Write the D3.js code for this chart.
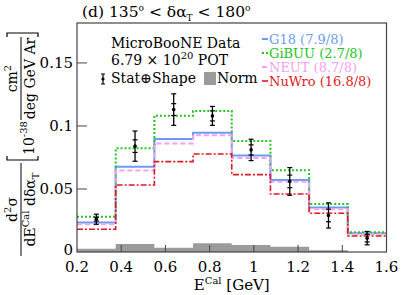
<!DOCTYPE html>
<html lang="en">
<head>
    <meta charset="UTF-8">
    <title>E Cal, 135 < dalphaT < 180</title>
    <style>
        body { margin: 0; background: #fff; }
        svg, svg text { font-family: "DejaVu Serif", "Liberation Serif", "Times New Roman", serif; }
        .leg { font-size: 14px; }
        .leg-r { font-size: 13px; }
    </style>
</head>
<body>
    <svg id="chart" width="407" height="295"></svg>

    <script src="https://d3js.org/d3.v7.min.js"></script>
    <script>
        // bin edges in E^Cal (GeV)
        const binEdges = [0.2, 0.375, 0.55, 0.725, 0.9, 1.075, 1.25, 1.425, 1.6];

        // MicroBooNE data (10^-38 cm2 / deg GeV Ar)
        const dataValues = [0.026, 0.084, 0.113, 0.108, 0.081, 0.056, 0.029, 0.011];
        const dataErrTotal = [0.004, 0.012, 0.0125, 0.0075, 0.0085, 0.011, 0.010, 0.0053];
        const dataErrStat = [0.0015, 0.005, 0.0047, 0.004, 0.004, 0.005, 0.005, 0.003];

        // normalisation uncertainty band
        const normValues = [0.0026, 0.0063, 0.0034, 0.0069, 0.0056, 0.0042, 0.0014, 0.0];

        // generator predictions
        const g18Values = [0.0235, 0.0677, 0.0897, 0.0947, 0.0765, 0.0571, 0.0354, 0.0148];
        const gibuuValues = [0.028, 0.0823, 0.1082, 0.1119, 0.0881, 0.0648, 0.0381, 0.0156];
        const neutValues = [0.022, 0.0646, 0.086, 0.0926, 0.0746, 0.0558, 0.0339, 0.014];
        const nuwroValues = [0.018, 0.0532, 0.0717, 0.0778, 0.0614, 0.046, 0.0307, 0.0127];

        const xTicks = [0.2, 0.4, 0.6, 0.8, 1.0, 1.2, 1.4, 1.6];
        const yTicks = [0, 0.05, 0.1, 0.15];

        const models = [
            { name: "G18", chi2: "7.9/8", values: g18Values, color: "#6a9cf0", dash: null, width: 2 },
            { name: "GiBUU", chi2: "2.7/8", values: gibuuValues, color: "#22c422", dash: "2,2", width: 2 },
            { name: "NEUT", chi2: "8.7/8", values: neutValues, color: "#f7a0f2", dash: "5,3", width: 2 },
            { name: "NuWro", chi2: "16.8/8", values: nuwroValues, color: "#dd1a22", dash: "6,2,2,2", width: 1.6 }
        ];

        const margin = { top: 23, right: 20.5, bottom: 43, left: 77 };
        const width = 407 - margin.left - margin.right;
        const height = 295 - margin.top - margin.bottom;

        const svg = d3.select("#chart");
        const g = svg.append("g")
            .attr("transform", "translate(" + margin.left + "," + margin.top + ")");

        const x = d3.scaleLinear().domain([0.2, 1.6]).range([0, width]);
        const y = d3.scaleLinear().domain([0, 0.1817]).range([height, 0]);

        const centers = binEdges.slice(0, -1).map((e, i) => (e + binEdges[i + 1]) / 2);

        // norm band
        const normArea = d3.area()
            .curve(d3.curveStepAfter)
            .x(d => x(d.x))
            .y0(y(0))
            .y1(d => y(d.v));
        const normPts = binEdges.map((e, i) => ({ x: e, v: normValues[Math.min(i, normValues.length - 1)] }));
        g.append("path")
            .attr("d", normArea(normPts))
            .attr("fill", "#9b9b9b");

        // model histograms
        const stepLine = d3.line()
            .curve(d3.curveStepAfter)
            .x(d => x(d.x))
            .y(d => y(d.v));
        models.forEach(m => {
            const pts = binEdges.map((e, i) => ({ x: e, v: m.values[Math.min(i, m.values.length - 1)] }));
            g.append("path")
                .attr("d", stepLine(pts))
                .attr("fill", "none")
                .attr("stroke", m.color)
                .attr("stroke-width", m.width)
                .attr("stroke-dasharray", m.dash);
        });

        // data points with error bars
        const pts = g.selectAll(".pt")
            .data(dataValues.map((v, i) => ({ c: centers[i], v: v, e: dataErrTotal[i], s: dataErrStat[i] })))
            .enter().append("g")
            .attr("class", "pt");
        pts.append("line")
            .attr("x1", d => x(d.c)).attr("x2", d => x(d.c))
            .attr("y1", d => y(d.v + d.e)).attr("y2", d => y(d.v - d.e))
            .attr("stroke", "#000").attr("stroke-width", 1.3);
        [d => d.v + d.e, d => d.v - d.e, d => d.v + d.s, d => d.v - d.s].forEach(f => {
            pts.append("line")
                .attr("x1", d => x(d.c) - 2.5).attr("x2", d => x(d.c) + 2.5)
                .attr("y1", d => y(f(d))).attr("y2", d => y(f(d)))
                .attr("stroke", "#000").attr("stroke-width", 1.2);
        });
        pts.append("circle")
            .attr("cx", d => x(d.c)).attr("cy", d => y(d.v))
            .attr("r", 1.8).attr("fill", "#000");

        // frame
        g.append("rect")
            .attr("width", width).attr("height", height)
            .attr("fill", "none").attr("stroke", "#444").attr("stroke-width", 1.2);

        // ticks (inside the frame)
        g.selectAll(".xt").data(xTicks.slice(1, -1)).enter().append("line")
            .attr("x1", d => x(d)).attr("x2", d => x(d))
            .attr("y1", height).attr("y2", height - 7)
            .attr("stroke", "#444");
        g.selectAll(".yt").data(yTicks.slice(1)).enter().append("line")
            .attr("x1", 0).attr("x2", 10)
            .attr("y1", d => y(d)).attr("y2", d => y(d))
            .attr("stroke", "#444");

        g.selectAll(".xl").data(xTicks).enter().append("text")
            .attr("x", d => x(d))
            .attr("y", height + 20)
            .attr("text-anchor", "middle")
            .style("font-size", "15px")
            .text(d => d3.format("")(d));
        g.selectAll(".yl").data(yTicks).enter().append("text")
            .attr("x", -4)
            .attr("y", d => y(d) + (d === 0 ? 3 : 5))
            .attr("text-anchor", "end")
            .style("font-size", "15px")
            .text(d => d3.format("")(d));

        // x axis title
        const xt = svg.append("text")
            .attr("x", margin.left + width / 2)
            .attr("y", 290)
            .attr("text-anchor", "middle")
            .style("font-size", "15px");
        xt.append("tspan").text("E");
        xt.append("tspan").attr("dy", -6).style("font-size", "10px").text("Cal");
        xt.append("tspan").attr("dy", 6).text(" [GeV]");

        // title
        const title = svg.append("text")
            .attr("x", 82).attr("y", 17)
            .style("font-size", "15.5px");
        title.append("tspan").text("(d) 135");
        title.append("tspan").attr("dy", -6).style("font-size", "9px").text("o");
        title.append("tspan").attr("dy", 6).text(" < δα");
        title.append("tspan").attr("dy", 4).style("font-size", "9px").text("T");
        title.append("tspan").attr("dy", -4).text(" < 180");
        title.append("tspan").attr("dy", -6).style("font-size", "9px").text("o");

        // y axis title (rotated, built from pieces)
        const yl = svg.append("g").attr("transform", "translate(22,145) rotate(-90)");
        function frac(cx, x0, x1, numFn, denFn) {
            yl.append("line").attr("x1", x0).attr("x2", x1).attr("y1", -1).attr("y2", -1)
                .attr("stroke", "#000").attr("stroke-width", 1);
            numFn(yl.append("text").attr("x", cx).attr("y", -5).attr("text-anchor", "middle").style("font-size", "14px"));
            denFn(yl.append("text").attr("x", cx).attr("y", 13).attr("text-anchor", "middle").style("font-size", "14px"));
        }
        frac(-64.5, -111, -18,
            t => { t.append("tspan").text("d"); t.append("tspan").attr("dy", -6).style("font-size", "10px").text("2");
                   t.append("tspan").attr("dy", 6).text("σ"); },
            t => { t.append("tspan").text("dE"); t.append("tspan").attr("dy", -6).style("font-size", "10px").text("Cal");
                   t.append("tspan").attr("dy", 6).text(" dδα"); t.append("tspan").attr("dy", 4).style("font-size", "10px").text("T"); });
        frac(66.5, 25, 108,
            t => { t.append("tspan").text("cm"); t.append("tspan").attr("dy", -6).style("font-size", "10px").text("2"); },
            t => { t.append("tspan").text("deg GeV Ar"); });
        yl.append("path").attr("d", "M-11,-15H-15V16H-11").attr("fill", "none").attr("stroke", "#000").attr("stroke-width", 1.2);
        yl.append("path").attr("d", "M108,-15H112V16H108").attr("fill", "none").attr("stroke", "#000").attr("stroke-width", 1.2);
        const pw = yl.append("text").attr("x", -10).attr("y", 12).style("font-size", "14px");
        pw.append("tspan").text("10");
        pw.append("tspan").attr("dy", -7).style("font-size", "10px").text("-38");

        // legend, left column
        svg.append("text").attr("class", "leg").attr("x", 111).attr("y", 48).text("MicroBooNE Data");
        const pot = svg.append("text").attr("class", "leg").attr("x", 111).attr("y", 65);
        pot.append("tspan").text("6.79 × 10");
        pot.append("tspan").attr("dy", -6).style("font-size", "10px").text("20");
        pot.append("tspan").attr("dy", 6).text(" POT");
        svg.append("line").attr("x1", 103).attr("x2", 103).attr("y1", 74).attr("y2", 84).attr("stroke", "#000").attr("stroke-width", 1.2);
        [74, 84].forEach(v => svg.append("line").attr("x1", 101).attr("x2", 105).attr("y1", v).attr("y2", v).attr("stroke", "#000"));
        svg.append("circle").attr("cx", 103).attr("cy", 79).attr("r", 1.6).attr("fill", "#000");
        svg.append("text").attr("class", "leg").attr("x", 111).attr("y", 83).text("Stat⊕Shape");
        svg.append("rect").attr("x", 204).attr("y", 72).attr("width", 12).attr("height", 13).attr("fill", "#9b9b9b");
        svg.append("text").attr("class", "leg").attr("x", 217).attr("y", 83).text("Norm");

        // legend, right column
        models.forEach((m, i) => {
            const by = 44 + i * 14;
            svg.append("line")
                .attr("x1", 262).attr("x2", 268)
                .attr("y1", by - 5).attr("y2", by - 5)
                .attr("stroke", m.color).attr("stroke-width", m.width)
                .attr("stroke-dasharray", m.dash);
            svg.append("text").attr("class", "leg-r")
                .attr("x", 269).attr("y", by)
                .style("fill", m.color)
                .text(m.name + " (" + m.chi2 + ")");
        });
    </script>
</body>
</html>
